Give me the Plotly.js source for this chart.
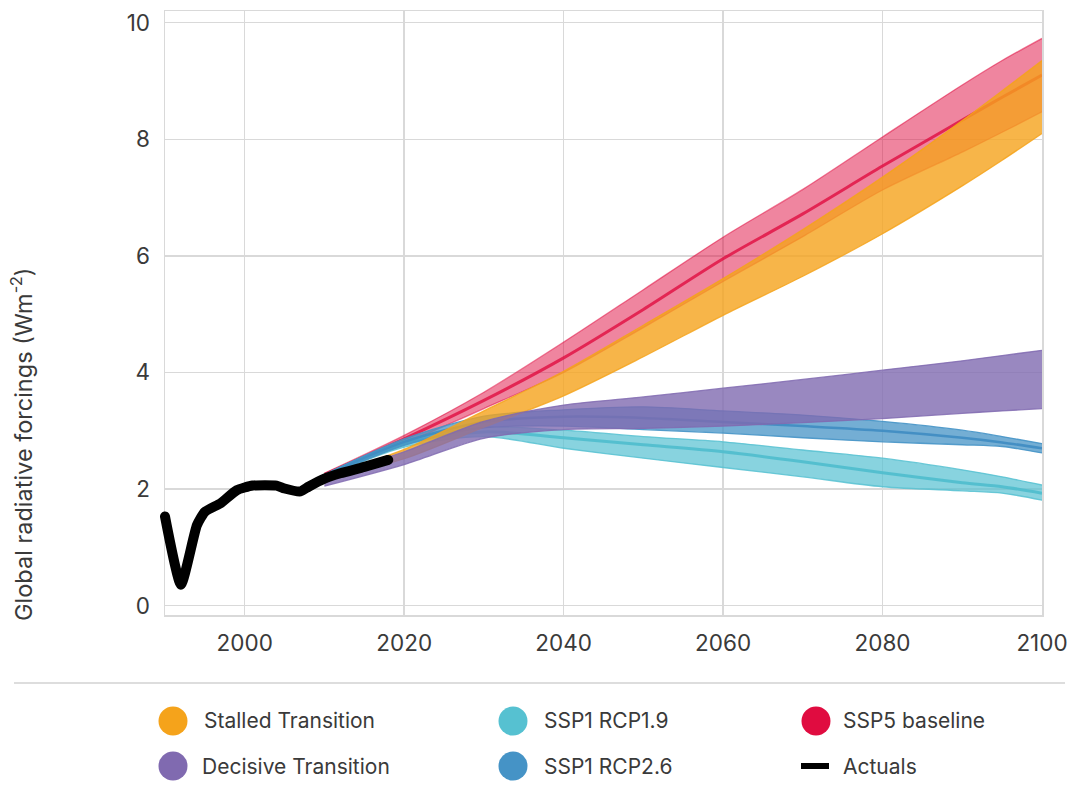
<!DOCTYPE html>
<html>
<head>
<meta charset="utf-8">
<script src="https://cdn.plot.ly/plotly-3.0.1.min.js"></script>
<style>
  html, body { margin: 0; padding: 0; background: #fff; }
  #chart { width: 1072px; height: 804px; }
</style>
</head>
<body>
<div id="chart"></div>
<script>
// ---------- DATA ----------
const actualYears  = [1990, 1992, 1994, 1995, 1997, 1999, 2001, 2004, 2005, 2007, 2008, 2010, 2012, 2015, 2018];
const actualValues = [1.53, 0.36, 1.38, 1.61, 1.76, 1.98, 2.06, 2.06, 2.01, 1.96, 2.04, 2.18, 2.27, 2.38, 2.50];

const projYears = [2010, 2020, 2030, 2040, 2050, 2060, 2070, 2080, 2090, 2095, 2100];

const ssp5Upper = [2.27, 2.92, 3.66, 4.52, 5.42, 6.32, 7.14, 8.04, 8.93, 9.35, 9.73];
const ssp5Mid   = [2.25, 2.86, 3.52, 4.25, 5.08, 5.95, 6.72, 7.54, 8.33, 8.72, 9.10];
const ssp5Lower = [2.22, 2.78, 3.38, 4.00, 4.77, 5.56, 6.33, 7.13, 7.78, 8.12, 8.47];

const stalledUpper = [2.22, 2.68, 3.34, 4.02, 4.81, 5.61, 6.45, 7.35, 8.32, 8.83, 9.35];
const stalledLower = [2.15, 2.52, 3.06, 3.60, 4.27, 4.98, 5.65, 6.38, 7.20, 7.64, 8.10];

const decisiveUpper = [2.20, 2.64, 3.16, 3.44, 3.58, 3.73, 3.88, 4.04, 4.20, 4.29, 4.38];
const decisiveLower = [2.05, 2.42, 2.87, 3.02, 3.04, 3.08, 3.14, 3.21, 3.30, 3.34, 3.38];

const rcp26Upper = [2.25, 2.86, 3.25, 3.36, 3.41, 3.34, 3.27, 3.16, 3.01, 2.90, 2.78];
const rcp26Mid   = [2.23, 2.81, 3.15, 3.24, 3.22, 3.15, 3.08, 3.00, 2.88, 2.80, 2.70];
const rcp26Lower = [2.20, 2.75, 3.05, 3.08, 3.02, 2.96, 2.88, 2.81, 2.76, 2.73, 2.62];

const rcp19Upper = [2.25, 2.83, 3.06, 3.01, 2.90, 2.81, 2.67, 2.53, 2.33, 2.21, 2.07];
const rcp19Mid   = [2.23, 2.78, 2.98, 2.88, 2.76, 2.64, 2.47, 2.28, 2.11, 2.04, 1.93];
const rcp19Lower = [2.20, 2.72, 2.90, 2.70, 2.53, 2.37, 2.21, 2.04, 1.97, 1.93, 1.81];

const xTickVals = [2000, 2020, 2040, 2060, 2080, 2100];
const yTickVals = [0, 2, 4, 6, 8, 10];

const legendNames  = ["Stalled Transition", "SSP1 RCP1.9", "SSP5 baseline", "Decisive Transition", "SSP1 RCP2.6", "Actuals"];
const legendColors = ["#f5a31b", "#56c1d1", "#e00c40", "#806ab0", "#4593c6", "#000000"];

// ---------- STYLE ----------
const FONT = "Inter, 'Liberation Sans', Arial, sans-serif";
const TXT = "#3a3a3a";
const GRID = "#d9d9d9";

function rgba(hex, a) {
  const n = parseInt(hex.slice(1), 16);
  return `rgba(${(n >> 16) & 255},${(n >> 8) & 255},${n & 255},${a})`;
}

const traces = [];
function band(lower, upper, color, fillA, edgeA) {
  traces.push({
    x: projYears, y: lower, type: "scatter", mode: "lines",
    line: { color: rgba(color, edgeA), width: 1.3, shape: "spline", smoothing: 0.8 },
    hoverinfo: "skip", showlegend: false
  });
  traces.push({
    x: projYears, y: upper, type: "scatter", mode: "lines", fill: "tonexty",
    fillcolor: rgba(color, fillA),
    line: { color: rgba(color, edgeA), width: 1.3, shape: "spline", smoothing: 0.8 },
    hoverinfo: "skip", showlegend: false
  });
}
function mid(values, color, a, w) {
  traces.push({
    x: projYears, y: values, type: "scatter", mode: "lines",
    line: { color: rgba(color, a), width: w, shape: "spline", smoothing: 0.8 },
    hoverinfo: "skip", showlegend: false
  });
}

band(ssp5Lower, ssp5Upper, "#e00c40", 0.5, 0.55);
mid(ssp5Mid, "#e00c40", 0.8, 3);
band(rcp19Lower, rcp19Upper, "#56c1d1", 0.7, 0.85);
mid(rcp19Mid, "#4fbccd", 0.9, 3);
band(rcp26Lower, rcp26Upper, "#4593c6", 0.75, 0.9);
mid(rcp26Mid, "#3f8cc2", 0.9, 2.5);
band(stalledLower, stalledUpper, "#f5a31b", 0.8, 0.85);
band(decisiveLower, decisiveUpper, "#806ab0", 0.8, 0.85);

// actuals drawn on an overlaid, slightly wider (same scale) subplot so the thick line end is not clipped
traces.push({
  x: actualYears, y: actualValues, type: "scatter", mode: "lines", xaxis: "x2", yaxis: "y2",
  line: { color: "#000", width: 10, shape: "spline", smoothing: 0.5 },
  hoverinfo: "skip", showlegend: false
});

// ---------- LAYOUT HELPERS ----------
const W = 1072, H = 804;
const ML = 155, MR = 30, MT = 11, MB = 189;
const PLOT_L = 165;                 // pixel position of the main plot's left edge
const PW = W - ML - MR, PH = H - MT - MB;
const px = v => (v - ML) / PW;
const py = v => (H - MB - v) / PH;
const X0 = 1990, X1 = 2100, Y0 = -0.16, Y1 = 10.2;
const mainDomainStart = px(PLOT_L);
const yearsPerPx = (X1 - X0) / (W - MR - PLOT_L);
const x2Start = X0 - (PLOT_L - ML) * yearsPerPx;

const shapes = [
  { type: "line", xref: "paper", yref: "paper", x0: px(14), x1: px(1065), y0: py(683), y1: py(683),
    line: { color: "#dddddd", width: 2 } }
];
const annotations = [
  { text: "Global radiative forcings (Wm<sup>-2</sup>)", xref: "paper", yref: "paper",
    x: px(22), y: py(445), textangle: -90, showarrow: false, xanchor: "center", yanchor: "middle",
    font: { family: FONT, size: 23.5, color: TXT } }
];

const colX = [173, 513, 816];
const textX = [[203, 543, 842], [201, 543, 842]];
const rowY = [721, 766];
legendNames.forEach((name, i) => {
  const r = Math.floor(i / 3), c = i % 3;
  const cx = colX[c], cy = rowY[r];
  if (name === "Actuals") {
    shapes.push({ type: "line", xref: "paper", yref: "paper", x0: px(801), x1: px(829), y0: py(cy), y1: py(cy),
      line: { color: legendColors[i], width: 6 } });
  } else {
    shapes.push({ type: "circle", xref: "paper", yref: "paper", xsizemode: "pixel", ysizemode: "pixel",
      xanchor: px(cx), yanchor: py(cy), x0: -14.5, x1: 14.5, y0: -14.5, y1: 14.5,
      fillcolor: legendColors[i], line: { width: 0 } });
  }
  annotations.push({ text: name, xref: "paper", yref: "paper", x: px(textX[r][c]), y: py(cy),
    xanchor: "left", yanchor: "middle", showarrow: false, borderpad: 0,
    font: { family: FONT, size: 21, color: TXT } });
});

const layout = {
  width: W, height: H,
  margin: { l: ML, r: MR, t: MT, b: MB, pad: 0 },
  paper_bgcolor: "#fff", plot_bgcolor: "rgba(0,0,0,0)",
  showlegend: false,
  font: { family: FONT, color: TXT },
  xaxis: {
    domain: [mainDomainStart, 1],
    range: [X0, X1], tickvals: xTickVals, ticktext: xTickVals.map(String),
    showgrid: true, gridcolor: GRID, gridwidth: 1.5, zeroline: false,
    showline: true, mirror: true, linecolor: GRID, linewidth: 1.5,
    ticks: "", ticklabelstandoff: 7,
    tickfont: { family: FONT, size: 22.5, color: TXT }
  },
  yaxis: {
    range: [Y0, Y1], tickvals: yTickVals, ticktext: yTickVals.map(String),
    showgrid: true, gridcolor: GRID, gridwidth: 1.5, zeroline: false,
    showline: true, mirror: true, linecolor: GRID, linewidth: 1.5,
    ticks: "", ticklabelstandoff: 9,
    tickfont: { family: FONT, size: 22.5, color: TXT }
  },
  xaxis2: { domain: [0, 1], range: [x2Start, X1], anchor: "y2", visible: false, showgrid: false, zeroline: false },
  yaxis2: { domain: [0, 1], range: [Y0, Y1], anchor: "x2", visible: false, showgrid: false, zeroline: false },
  shapes: shapes,
  annotations: annotations
};

Plotly.newPlot("chart", traces, layout, { staticPlot: true, displayModeBar: false }).then(gd => {
  gd.querySelectorAll("path.js-line").forEach(p => {
    if (parseFloat(p.style.strokeWidth) >= 8) {
      p.style.strokeLinecap = "round";
      p.style.strokeLinejoin = "round";
    }
  });
});
</script>
</body>
</html>
